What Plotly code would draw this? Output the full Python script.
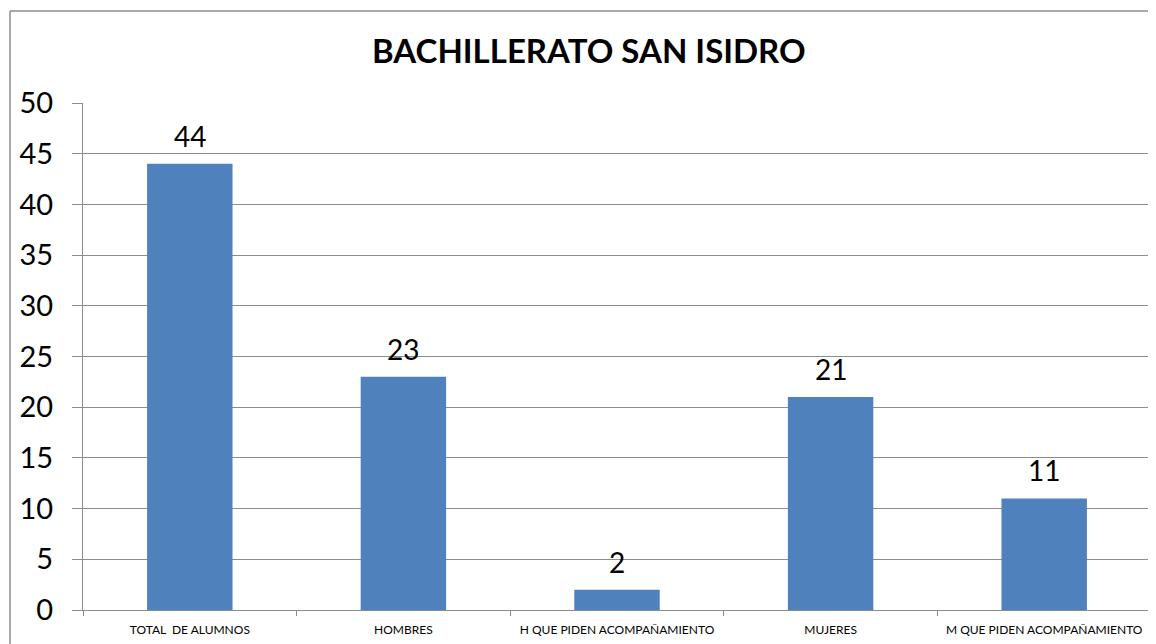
import plotly.graph_objects as go

categories = ["TOTAL  DE ALUMNOS", "HOMBRES", "H QUE PIDEN ACOMPAÑAMIENTO", "MUJERES", "M QUE PIDEN ACOMPAÑAMIENTO"]
values = [44, 23, 2, 21, 11]
title_text = "BACHILLERATO SAN ISIDRO"

OFF = 8  # default page body margin
W, H = 1156 - OFF, 644 - OFF
L = 83 - OFF
T = 103 - OFF
R = W - (1151 - OFF)
B = H - (610 - OFF)
pw, ph = W - L - R, H - T - B

fig = go.Figure(go.Bar(
    x=categories, y=values, width=0.4,
    marker=dict(color="#4F81BD", line=dict(width=0)),
    hoverinfo="x+y",
))

for c, v in zip(categories, values):
    fig.add_annotation(x=c, y=v, text=str(v), showarrow=False, yanchor="bottom",
                       yshift=9, font=dict(size=28, family="Lato", color="#000000"))

fig.update_layout(
    width=W, height=H,
    margin=dict(l=L, r=R, t=T, b=B, pad=0, autoexpand=False),
    paper_bgcolor="white", plot_bgcolor="white",
    font=dict(family="Lato", color="#000000"),
    showlegend=False,
)
fig.update_yaxes(
    range=[0, 50], dtick=5, tick0=0,
    showgrid=True, gridcolor="#8c8c8c", gridwidth=1,
    showline=True, linecolor="#8c8c8c", linewidth=1,
    ticks="outside", ticklen=10, tickcolor="#8c8c8c",
    tickfont=dict(size=29, family="Lato", color="#000000"),
    ticklabelstandoff=13, automargin=False,
    zeroline=False, fixedrange=True,
)
fig.update_xaxes(
    type="category", tickson="boundaries",
    showline=True, linecolor="#8c8c8c", linewidth=1,
    ticks="outside", ticklen=5, tickcolor="#8c8c8c",
    tickfont=dict(size=12, family="Lato", color="#000000"),
    ticklabelstandoff=9, tickangle=0, automargin=False,
    showgrid=False, fixedrange=True,
)

# outer chart border (top and left visible)
x_left = (10 - 83) / pw
y_top = (610 - 11) / ph
fig.add_shape(type="line", xref="paper", yref="paper", x0=x_left, x1=(W - L) / pw, y0=y_top, y1=y_top,
              line=dict(color="#8c8c8c", width=1.5))
fig.add_shape(type="line", xref="paper", yref="paper", x0=x_left, x1=x_left, y0=y_top, y1=-(B + 5) / ph,
              line=dict(color="#8c8c8c", width=1.5))

fig.add_annotation(text=f"<b>{title_text}</b>", xref="paper", yref="paper",
                   x=(589 - 83) / pw, y=(610 - 50) / ph, xanchor="center", yanchor="middle",
                   showarrow=False, font=dict(size=33, family="Lato", color="#000000"))

fig.write_html("out.html")
